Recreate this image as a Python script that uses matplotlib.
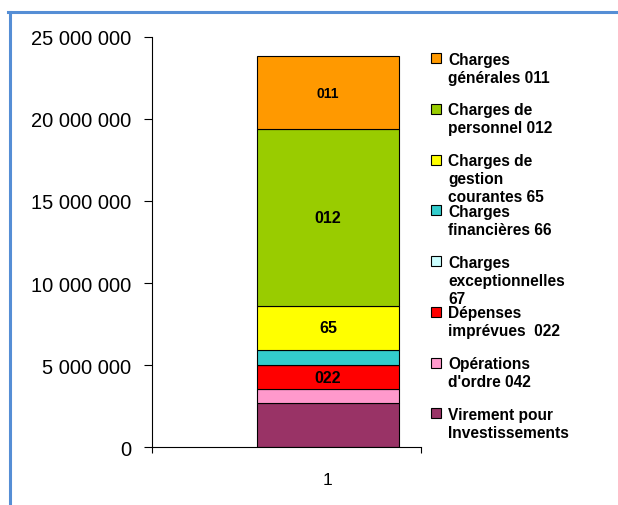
import matplotlib.pyplot as plt
from matplotlib.patches import Rectangle
from matplotlib.lines import Line2D

plt.rcParams['font.family'] = ['Liberation Sans', 'DejaVu Sans']

# stacked segments, bottom to top
categories = ["Virement pour\nInvestissements", "Opérations\nd'ordre 042",
              "Dépenses\nimprévues  022", "Charges\nexceptionnelles\n67",
              "Charges\nfinancières 66", "Charges de\ngestion\ncourantes 65",
              "Charges de\npersonnel 012", "Charges\ngénérales 011"]
values = [2700000, 850000, 1460000, 20000, 920000, 2680000, 10730000, 4470000]
bar_labels = ["", "", "022", "", "", "65", "012", "011"]
colors = ["#993366", "#FF99CC", "#FF0000", "#CCFFFF", "#33CCCC", "#FFFF00",
          "#99CC00", "#FF9900"]
yticks = [0, 5000000, 10000000, 15000000, 20000000, 25000000]

W, H = 618, 506
fig = plt.figure(figsize=(W / 100, H / 100), dpi=100)
ax = fig.add_axes([152 / W, 1 - 448.3 / H, 269 / W, 410.6 / H])

bottom = 0
for v, c, lab in zip(values, colors, bar_labels):
    ax.bar(1, v, bottom=bottom, width=0.528, color=c, edgecolor="black",
           linewidth=0.8)
    if lab:
        fs = 10 if lab == "011" else 11.5
        ax.text(1, bottom + v / 2, lab, ha="center", va="center",
                fontsize=fs, fontweight="bold")
    bottom += v

ax.set_xlim(1 - 0.654, 1 + 0.346)
ax.set_ylim(0, 25000000)
ax.set_yticks(yticks)
ax.set_yticklabels([f"{t:,}".replace(",", " ") for t in yticks], fontsize=14.5)
ax.set_xticks([1])
ax.set_xticklabels(["1"], fontsize=12.5)
ax.set_xticks(ax.get_xlim(), minor=True)
ax.tick_params(axis="y", direction="out", length=6, width=0.8, pad=9)
ax.tick_params(axis="x", which="major", length=0, pad=18)
ax.tick_params(axis="x", which="minor", direction="out", length=4, width=0.8)
ax.spines["top"].set_visible(False)
ax.spines["right"].set_visible(False)
ax.spines["left"].set_linewidth(0.8)
ax.spines["bottom"].set_linewidth(0.8)

# legend drawn by hand, top entry first
for i, (lab, c) in enumerate(zip(categories[::-1], colors[::-1])):
    top = 54.3 + i * 50.7
    fig.add_artist(Rectangle((431.5 / W, 1 - (top + 10) / H), 10 / W, 10 / H,
                             transform=fig.transFigure, facecolor=c,
                             edgecolor="black", linewidth=0.8))
    for j, line in enumerate(lab.split("\n")):
        fig.text(448 / W, 1 - (top + 10.5 + j * 18) / H, line,
                 fontsize=11.2, fontweight="bold", va="baseline", ha="left")

# blue frame (left and top)
frame = "#558ED5"
fig.add_artist(Line2D([9.5 / W, 9.5 / W], [1 - 12.5 / H, 0], color=frame,
                      linewidth=2.2, transform=fig.transFigure))
fig.add_artist(Line2D([8.4 / W, 617.5 / W], [1 - 12.5 / H, 1 - 12.5 / H],
                      color=frame, linewidth=2.2, transform=fig.transFigure))

fig.savefig("out.png", dpi=100)
